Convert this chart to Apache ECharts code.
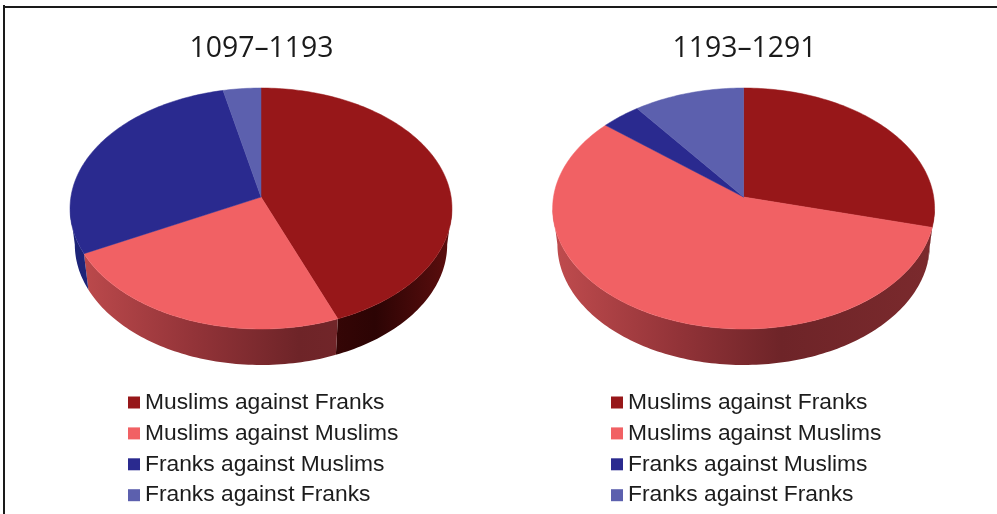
<!DOCTYPE html>
<html>
<head>
<meta charset="utf-8">
<style>html,body{margin:0;padding:0;background:#fff}#c{width:997px;height:514px}</style>
<script src="https://cdn.jsdelivr.net/npm/echarts@6/dist/echarts.min.js"></script>
</head>
<body>
<div id="c"></div>
<script>
// --- data (share of each category, percent) ---
const categories = ['Muslims against Franks', 'Muslims against Muslims', 'Franks against Muslims', 'Franks against Franks'];
const periods = ['1097–1193', '1193–1291'];
const values1097 = [44, 23.5, 29, 3.5];
const values1193 = [29, 57, 3.7, 10.3];

// --- styles ---
const faceColors = ['#971719', '#F16164', '#2A2A8F', '#5C60AE'];
const wallStops = [
  [[0, '#7a1414'], [0.6, '#3d0707'], [0.8, '#2c0404'], [1, '#5c0e0e']],
  [[0, '#c04c4e'], [0.33, '#923338'], [0.6, '#6e2428'], [1, '#7b2a2d']],
  [[0, '#1d2478'], [1, '#1d2478']],
  [[0, '#3f4390'], [1, '#3f4390']]
];

// --- perspective of the tilted disc ---
const pieGeom = [{ax: 261, ay: 197}, {ax: 743.6, ay: 197}];
const A = 190.1, B = 119.4, K = 0.0954, DEPTH = 36, BOTTOM_SCALE = 0.975;
const TAU = Math.PI * 2;
const FRONT_START = Math.acos(-K), FRONT_END = TAU - Math.acos(-K);

function project(g, t, dy, sx) {
  const w = 1 + K * Math.cos(t);
  return [g.ax + (sx || 1) * A * Math.sin(t) / w, g.ay - B * Math.cos(t) / w + (dy || 0)];
}
function arc(g, t0, t1, dy, sx) {
  const n = Math.max(2, Math.ceil(Math.abs(t1 - t0) / 0.02));
  const pts = [];
  for (let i = 0; i <= n; i++) pts.push(project(g, t0 + (t1 - t0) * i / n, dy, sx));
  return pts;
}
function sliceRenderer(pieIndex, catIndex, vals) {
  const g = pieGeom[pieIndex];
  const total = vals.reduce((a, b) => a + b, 0);
  return function (params, api) {
    const before = vals.slice(0, catIndex).reduce((a, b) => a + b, 0);
    const t0 = before / total * TAU;
    const t1 = t0 + api.value(0) / total * TAU;
    const children = [];
    const a = Math.max(t0, FRONT_START), b = Math.min(t1, FRONT_END);
    if (b > a) {
      const pts = arc(g, a, b, 0).concat(arc(g, b, a, DEPTH, BOTTOM_SCALE));
      children.push({
        type: 'polygon',
        shape: {points: pts},
        style: {
          fill: new echarts.graphic.LinearGradient(g.ax - A, 0, g.ax + A, 0,
            wallStops[catIndex].map(s => ({offset: s[0], color: s[1]})), true),
          stroke: null
        }
      });
    }
    const face = [[g.ax, g.ay]].concat(arc(g, t0, t1, 0));
    children.push({
      type: 'polygon',
      shape: {points: face},
      style: {fill: faceColors[catIndex], stroke: faceColors[catIndex], lineWidth: 0.5}
    });
    return {type: 'group', children: children};
  };
}

const series = [];
[values1097, values1193].forEach((vals, p) => {
  categories.forEach((name, c) => {
    series.push({
      type: 'custom',
      name: name,
      coordinateSystem: 'none',
      silent: true,
      animation: false,
      itemStyle: {color: faceColors[c]},
      data: [[vals[c]]],
      renderItem: sliceRenderer(p, c, vals)
    });
  });
});

const legendBase = {
  orient: 'vertical', top: 391, padding: 0, itemGap: 7.9,
  itemWidth: 12, itemHeight: 12, icon: 'rect', selectedMode: false,
  data: categories,
  textStyle: {fontFamily: '"Liberation Sans", Arial, sans-serif', fontSize: 22.8, lineHeight: 20, color: '#1c1c1c'}
};
const titleStyle = {fontFamily: '"Open Sans", sans-serif', fontSize: 28.4, fontWeight: 'normal', color: '#1a1a1a'};

const chart = echarts.init(document.getElementById('c'), null, {renderer: 'canvas'});
chart.setOption({
  animation: false,
  backgroundColor: '#ffffff',
  title: [
    {text: periods[0], left: 261.5, top: 35, textAlign: 'center', padding: 0, textStyle: titleStyle},
    {text: periods[1], left: 744.5, top: 35, textAlign: 'center', padding: 0, textStyle: titleStyle}
  ],
  legend: [
    Object.assign({left: 128}, legendBase),
    Object.assign({left: 611}, legendBase)
  ],
  graphic: [
    {type: 'rect', silent: true, shape: {x: 3, y: 6, width: 994, height: 2}, style: {fill: '#1a1a1a'}},
    {type: 'rect', silent: true, shape: {x: 3, y: 5, width: 2, height: 509}, style: {fill: '#1a1a1a'}}
  ],
  series: series
});
</script>
</body>
</html>
